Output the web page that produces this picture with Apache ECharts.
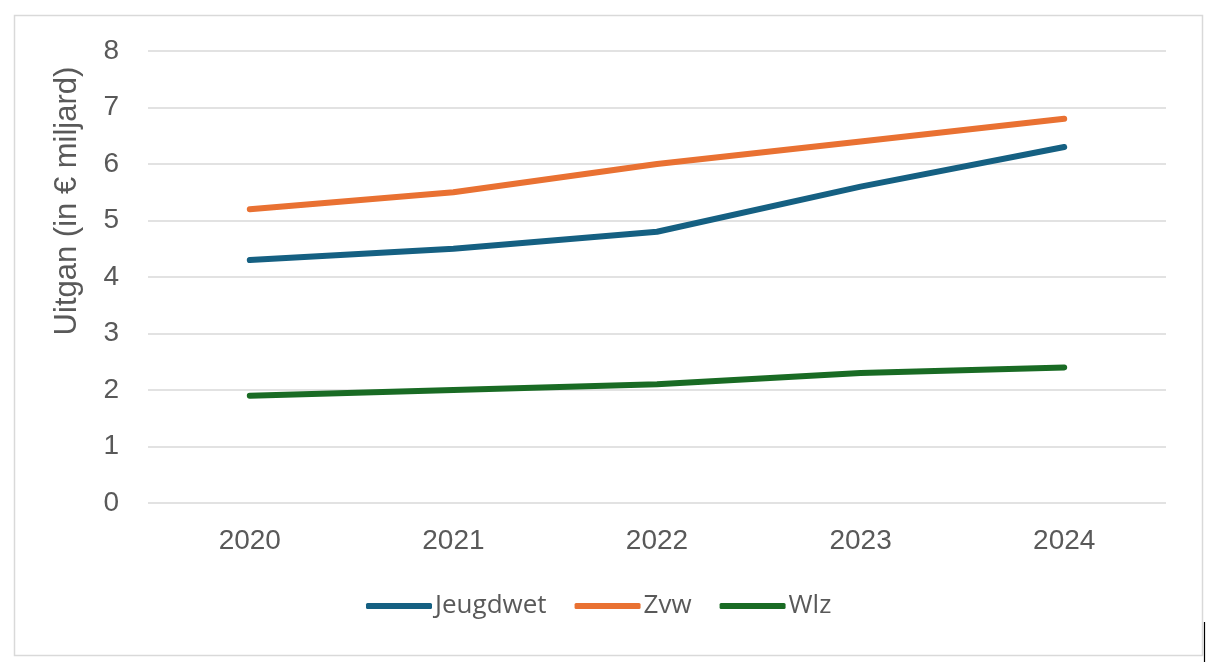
<!DOCTYPE html>
<html>
<head>
<meta charset="utf-8">
<script src="https://cdn.jsdelivr.net/npm/echarts@6/dist/echarts.min.js"></script>
<style>
html,body{margin:0;padding:0;background:#fff;}
#c{width:1222px;height:666px;}
</style>
</head>
<body>
<div id="c"></div>
<script>
const years = ['2020','2021','2022','2023','2024'];
const jeugdwet = [4.3, 4.5, 4.8, 5.6, 6.3];
const zvw = [5.2, 5.5, 6.0, 6.4, 6.8];
const wlz = [1.9, 2.0, 2.1, 2.3, 2.4];
const seriesNames = ['Jeugdwet','Zvw','Wlz'];
const colors = ['#156082','#E97132','#196B24'];
const yTitle = 'Uitgan (in € miljard)';

const chart = echarts.init(document.getElementById('c'), null, {renderer:'canvas'});
const mk = (name, data, color) => ({
  name, type:'line', data, smooth:false, showSymbol:false, symbol:'none',
  lineStyle:{color, width:6, cap:'round', join:'round'}, itemStyle:{color}
});
chart.setOption({
  animation:false,
  color: colors,
  graphic:[
    {type:'rect', shape:{x:14.5,y:15.5,width:1188,height:640}, style:{fill:'none',stroke:'#d9d9d9',lineWidth:1.5}, z:-1},
    {type:'line', shape:{x1:1204.5,y1:622,x2:1204.5,y2:662}, style:{stroke:'#000',lineWidth:1.2}},
    {type:'text', x:67, y:201, rotation:Math.PI/2,
     style:{text:yTitle, fill:'#595959', fontSize:31, fontFamily:'Liberation Sans', align:'center', verticalAlign:'middle'}}
  ],
  grid:{left:148, right:56, top:51, bottom:163, containLabel:false},
  legend:{
    data: seriesNames,
    bottom: 42, left:361,
    itemWidth:66, itemHeight:6, itemGap:28,
    icon:'roundRect',
    textStyle:{color:'#595959', fontSize:26, fontFamily:'Open Sans', padding:[0,0,0,-2]}
  },
  xAxis:{
    type:'category', data: years, boundaryGap:true,
    axisLine:{show:false}, axisTick:{show:false},
    axisLabel:{color:'#595959', fontSize:28, fontFamily:'Liberation Sans', margin:24}
  },
  yAxis:{
    type:'value', min:0, max:8, interval:1,
    axisLabel:{color:'#595959', fontSize:28, fontFamily:'Liberation Sans', margin:29},
    axisLine:{show:false}, axisTick:{show:false},
    splitLine:{lineStyle:{color:'#d9d9d9', width:1.5}}
  },
  series:[ mk(seriesNames[0], jeugdwet, colors[0]), mk(seriesNames[1], zvw, colors[1]), mk(seriesNames[2], wlz, colors[2]) ]
});
</script>
</body>
</html>
